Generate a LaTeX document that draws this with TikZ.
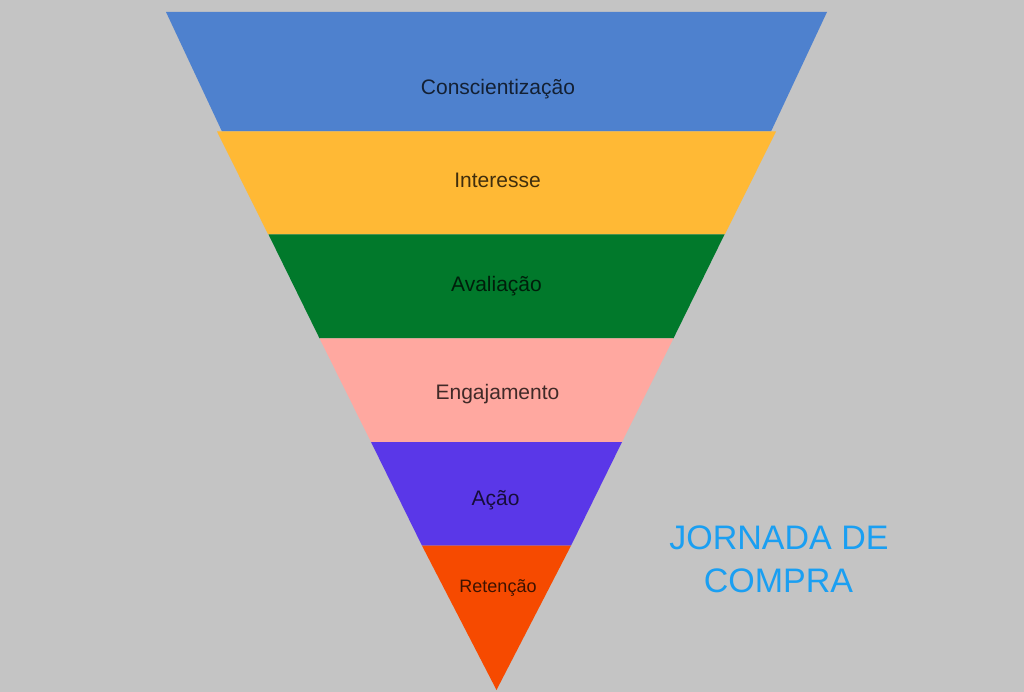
\documentclass[tikz,border=0pt]{standalone}
\usepackage{fontspec}
\setmainfont{Liberation Sans}
\definecolor{bgc}{HTML}{C4C4C4}
\definecolor{bandA}{HTML}{4E81CE}
\definecolor{bandB}{HTML}{FFB935}
\definecolor{bandC}{HTML}{01792B}
\definecolor{bandD}{HTML}{FFA8A0}
\definecolor{bandE}{HTML}{5A37E8}
\definecolor{bandF}{HTML}{F64A00}
\definecolor{titlec}{HTML}{1A9FF2}
\tikzset{
  bandlabel/.style={anchor=base, inner sep=0pt, text=black, text opacity=0.75, font=\fontsize{21}{24}\selectfont},
  smalllabel/.style={bandlabel, font=\fontsize{18}{21}\selectfont},
  titlelabel/.style={anchor=base, inner sep=0pt, text=titlec, font=\fontsize{34}{40}\selectfont}
}
\begin{document}
\begin{tikzpicture}[x=1pt,y=-1pt]
  \fill[bgc] (0,0) rectangle (1024,692);
  \useasboundingbox (0,0) rectangle (1024,692);
  % bands
  \fill[bandA] (166,12) -- (827,12) -- (771,131.5) -- (222,131.5) -- cycle;
  \fill[bandB] (217,131.5) -- (776,131.5) -- (724.8,234.5) -- (268.2,234.5) -- cycle;
  \fill[bandC] (268.5,234.5) -- (724.5,234.5) -- (673.5,338.3) -- (319.5,338.3) -- cycle;
  \fill[bandD] (319.5,338.3) -- (673.5,338.3) -- (622,442) -- (371,442) -- cycle;
  \fill[bandE] (371,442) -- (622,442) -- (571,545.7) -- (422,545.7) -- cycle;
  \fill[bandF] (422,545.7) -- (571,545.7) -- (496.5,690) -- cycle;
  % labels
  \node[bandlabel] (l1) at (498,94.3) {Conscientização};
  \node[bandlabel] (l2) at (497.5,187.7) {Interesse};
  \node[bandlabel] (l3) at (496.5,291.7) {Avaliação};
  \node[bandlabel] (l4) at (497.5,399) {Engajamento};
  \node[bandlabel] (l5) at (495.5,505) {Ação};
  \node[smalllabel] (l6) at (498,592.3) {Retenção};
  % title
  \node[titlelabel] (t1) at (779,549.3) {JORNADA DE};
  \node[titlelabel] (t2) at (778.5,592.3) {COMPRA};
\end{tikzpicture}
\end{document}
